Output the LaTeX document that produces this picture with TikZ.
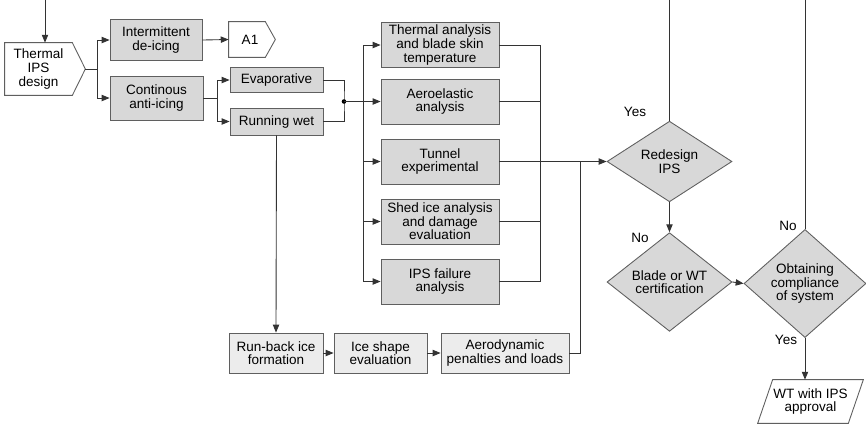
\documentclass[tikz,border=0pt]{standalone}
\usepackage{fontspec}
\setmainfont{Liberation Sans}
\usetikzlibrary{shapes.geometric, arrows.meta, positioning}
\definecolor{icegray}{RGB}{216,216,216}
\definecolor{icelight}{RGB}{236,236,236}
\definecolor{iceline}{RGB}{95,95,95}

\begin{document}
\begin{tikzpicture}[
  x=0.02cm, y=-0.02cm,
  font=\fontsize{7.7}{7.7}\selectfont,
  box/.style={draw=iceline, fill=icegray, line width=0.5pt, align=center, inner sep=1pt, minimum width=1.86cm, minimum height=0.88cm},
  lightbox/.style={box, fill=icelight, minimum height=0.8cm},
  widebox/.style={box, minimum width=2.36cm, minimum height=0.9cm},
  checkbox/.style={diamond, draw=iceline, fill=icegray, line width=0.5pt, align=center, inner sep=0pt},
  flag/.style={align=center, inner sep=1pt},
  flagline/.style={draw=iceline, fill=white, line width=0.5pt},
  link/.style={draw=black!80, line width=0.5pt},
  arr/.style={link, -{Triangle[length=4.5pt,width=3.6pt]}},
  answer/.style={inner sep=0pt}
]
  \useasboundingbox (0,0) rectangle (866,424);

  % design choice (flag outlines drawn around plain text nodes)
  \node[flag, minimum width=1.34cm, minimum height=1.04cm] (design) at (38.5,69) {};
  \draw[flagline] (design.north west) -- (design.north east) -- ([xshift=0.26cm]design.east)
    -- (design.south east) -- (design.south west) -- cycle;
  \node[flag] at (design) {Thermal\\IPS\\design};
  \coordinate (designtip) at ([xshift=0.26cm]design.east);

  \node[box, minimum width=1.84cm, minimum height=0.82cm] (inter) at (156,40) {Intermittent\\de-icing};
  \node[flag, minimum width=0.72cm, minimum height=0.7cm] (a1) at (247,39.5) {};
  \draw[flagline] (a1.north west) -- (a1.north east) -- ([xshift=0.2cm]a1.east)
    -- (a1.south east) -- (a1.south west) -- cycle;
  \node[flag] at ([xshift=0.06cm]a1) {A1};

  \node[box] (cont) at (156.5,98) {Continous\\anti-icing};
  \node[box, minimum height=0.5cm] (evap) at (276.5,80) {Evaporative};
  \node[box, minimum height=0.54cm] (wet) at (276.5,121.5) {Running wet};

  % analyses
  \node[widebox] (therm) at (440,45) {Thermal analysis\\and blade skin\\temperature};
  \node[widebox] (aero) at (440,101.5) {Aeroelastic\\analysis};
  \node[widebox] (tunnel) at (440,161.5) {Tunnel\\experimental};
  \node[widebox] (shed) at (440,221.5) {Shed ice analysis\\and damage\\evaluation};
  \node[widebox] (fail) at (440,281.5) {IPS failure\\analysis};

  % run-back chain
  \node[lightbox, minimum width=1.88cm] (runback) at (276,353) {Run-back ice\\formation};
  \node[lightbox] (iceshape) at (380.5,353) {Ice shape\\evaluation};
  \node[lightbox, minimum width=2.56cm] (aerodyn) at (505,353) {Aerodynamic\\penalties and loads};

  % decisions
  \node[checkbox, minimum width=2.5cm, minimum height=1.48cm] (redesign) at (669.5,161.5) {Redesign\\IPS};
  \node[checkbox, minimum width=2.5cm, minimum height=1.6cm] (blade) at (669.5,282) {Blade or WT\\certification};
  \node[checkbox, minimum width=2.44cm, minimum height=1.86cm] (comply) at (805,283.5) {Obtaining\\compliance\\of system};

  \node[flag, minimum width=1.8cm, minimum height=0.86cm] (approval) at (810.5,401.5) {};
  \draw[flagline] ([xshift=0.15cm]approval.north west) -- ([xshift=0.15cm]approval.north east)
    -- ([xshift=-0.15cm]approval.south east) -- ([xshift=-0.15cm]approval.south west) -- cycle;
  \node[flag] at (approval) {WT with IPS\\approval};

  \node[answer] (yesa) at (635,112) {Yes};
  \node[answer] (noa) at (640,237.5) {No};
  \node[answer] (nob) at (788,226) {No};
  \node[answer] (yesb) at (786,340) {Yes};

  \coordinate (entry) at (45,0);
  \coordinate (join) at (344,101.5);
  \coordinate (busl) at (363,0);
  \coordinate (busr) at (540,0);
  \coordinate (merge) at (580,161.5);
  \coordinate (loopa) at (669.5,0);
  \coordinate (loopb) at (805,0);

  \draw[arr] (entry) -- (entry |- design.north);
  \draw[arr] (designtip) -- ++(12,0) |- (inter.west);
  \draw[arr] (designtip) -- ++(12,0) |- (cont.west);
  \draw[arr] (inter.east) -- (a1.west);
  \draw[arr] (cont.east) -- ++(14,0) |- (evap.west);
  \draw[arr] (cont.east) -- ++(14,0) |- (wet.west);
  \draw[link] (evap.east) -| (join) |- (wet.east);
  \fill (join) circle (1.3pt);
  \draw[arr] (join) -- (aero.west);

  \draw[link] (busl |- therm.west) -- (busl |- fail.west);
  \foreach \n in {therm, tunnel, shed, fail}
    \draw[arr] (busl |- \n.west) -- (\n.west);
  \foreach \n in {therm, aero, shed, fail}
    \draw[link] (\n.east) -- (busr |- \n.east);
  \draw[link] (busr |- therm.east) -- (busr |- fail.east);
  \draw[arr] (tunnel.east) -- (redesign.west);

  \draw[arr] (wet.south) -- (runback.north);
  \draw[arr] (runback.east) -- (iceshape.west);
  \draw[arr] (iceshape.east) -- (aerodyn.west);
  \draw[link] (aerodyn.east) -| (merge);

  \draw[link] (loopa) -- (redesign.north);
  \draw[arr] (redesign.south) -- (blade.north);
  \draw[arr] (blade.east) -- (comply.west);
  \draw[link] (loopb) -- (comply.north);
  \draw[arr] (comply.south) -- (comply.south |- approval.north);
\end{tikzpicture}
\end{document}
